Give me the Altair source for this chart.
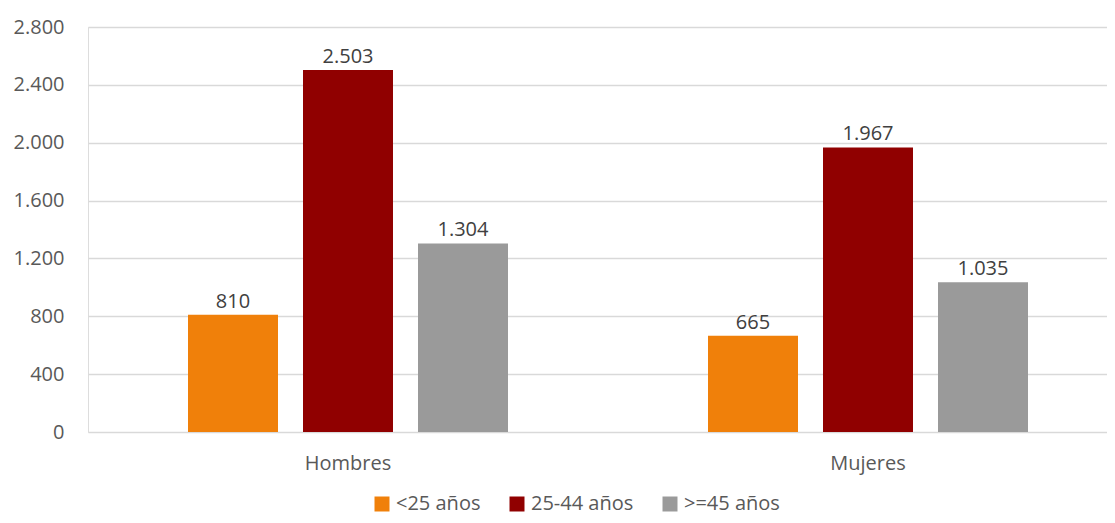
import altair as alt
import pandas as pd

sexo = ["Hombres", "Mujeres"]
edad = ["<25 años", "25-44 años", ">=45 años"]
hombres = [810, 2503, 1304]
mujeres = [665, 1967, 1035]
colores = ["#F0800A", "#900000", "#9A9A9A"]
y_ticks = [0, 400, 800, 1200, 1600, 2000, 2400, 2800]

rows = []
for s, vals in zip(sexo, [hombres, mujeres]):
    for e, v in zip(edad, vals):
        rows.append({"sexo": s, "edad": e, "valor": v})
df = pd.DataFrame(rows)

FONT = "Open Sans"

base = alt.Chart(df).encode(
    x=alt.X("sexo:N", sort=sexo, title=None,
            scale=alt.Scale(range=[0, 1040], paddingInner=0, paddingOuter=0),
            axis=alt.Axis(domain=False, ticks=False, labelAngle=0, labelFontSize=20,
                          labelColor="#595959", labelFont=FONT, labelPadding=21,
                          labelBaseline="top")),
    xOffset=alt.XOffset("edad:N", sort=edad,
                        scale=alt.Scale(paddingInner=0.2174, paddingOuter=0.8696)),
    y=alt.Y("valor:Q", title=None,
            scale=alt.Scale(domain=[0, 2800], nice=False),
            axis=alt.Axis(values=y_ticks, format=",d", domain=False, ticks=False,
                          grid=True, gridColor="#D9D9D9", gridWidth=1.5,
                          labelFontSize=20, labelColor="#595959", labelFont=FONT,
                          labelPadding=24)),
)

bars = base.mark_bar().encode(
    color=alt.Color("edad:N", sort=edad, title=None,
                    scale=alt.Scale(domain=edad, range=colores),
                    legend=alt.Legend(orient="none", legendX=284, legendY=467,
                                      direction="horizontal", symbolType="square",
                                      symbolSize=225, symbolStrokeWidth=0,
                                      labelFontSize=20, labelColor="#595959",
                                      labelFont=FONT, labelOffset=4,
                                      columnPadding=26, padding=0))
)

labels = base.mark_text(baseline="bottom", dy=-3, fontSize=20, font=FONT,
                        color="#404040").encode(text=alt.Text("valor:Q", format=",d"))

chart = (bars + labels).properties(
    width=1019, height=405,
    autosize=alt.AutoSizeParams(type="none"),
    padding={"left": 80, "top": 19, "right": 0, "bottom": 83},
).configure_view(stroke=None).configure(
    locale={"number": {"decimal": ",", "thousands": ".", "grouping": [3],
                       "currency": ["", " €"]}}
)

chart.save("out.html", embed_options={"renderer": "svg", "actions": False})
